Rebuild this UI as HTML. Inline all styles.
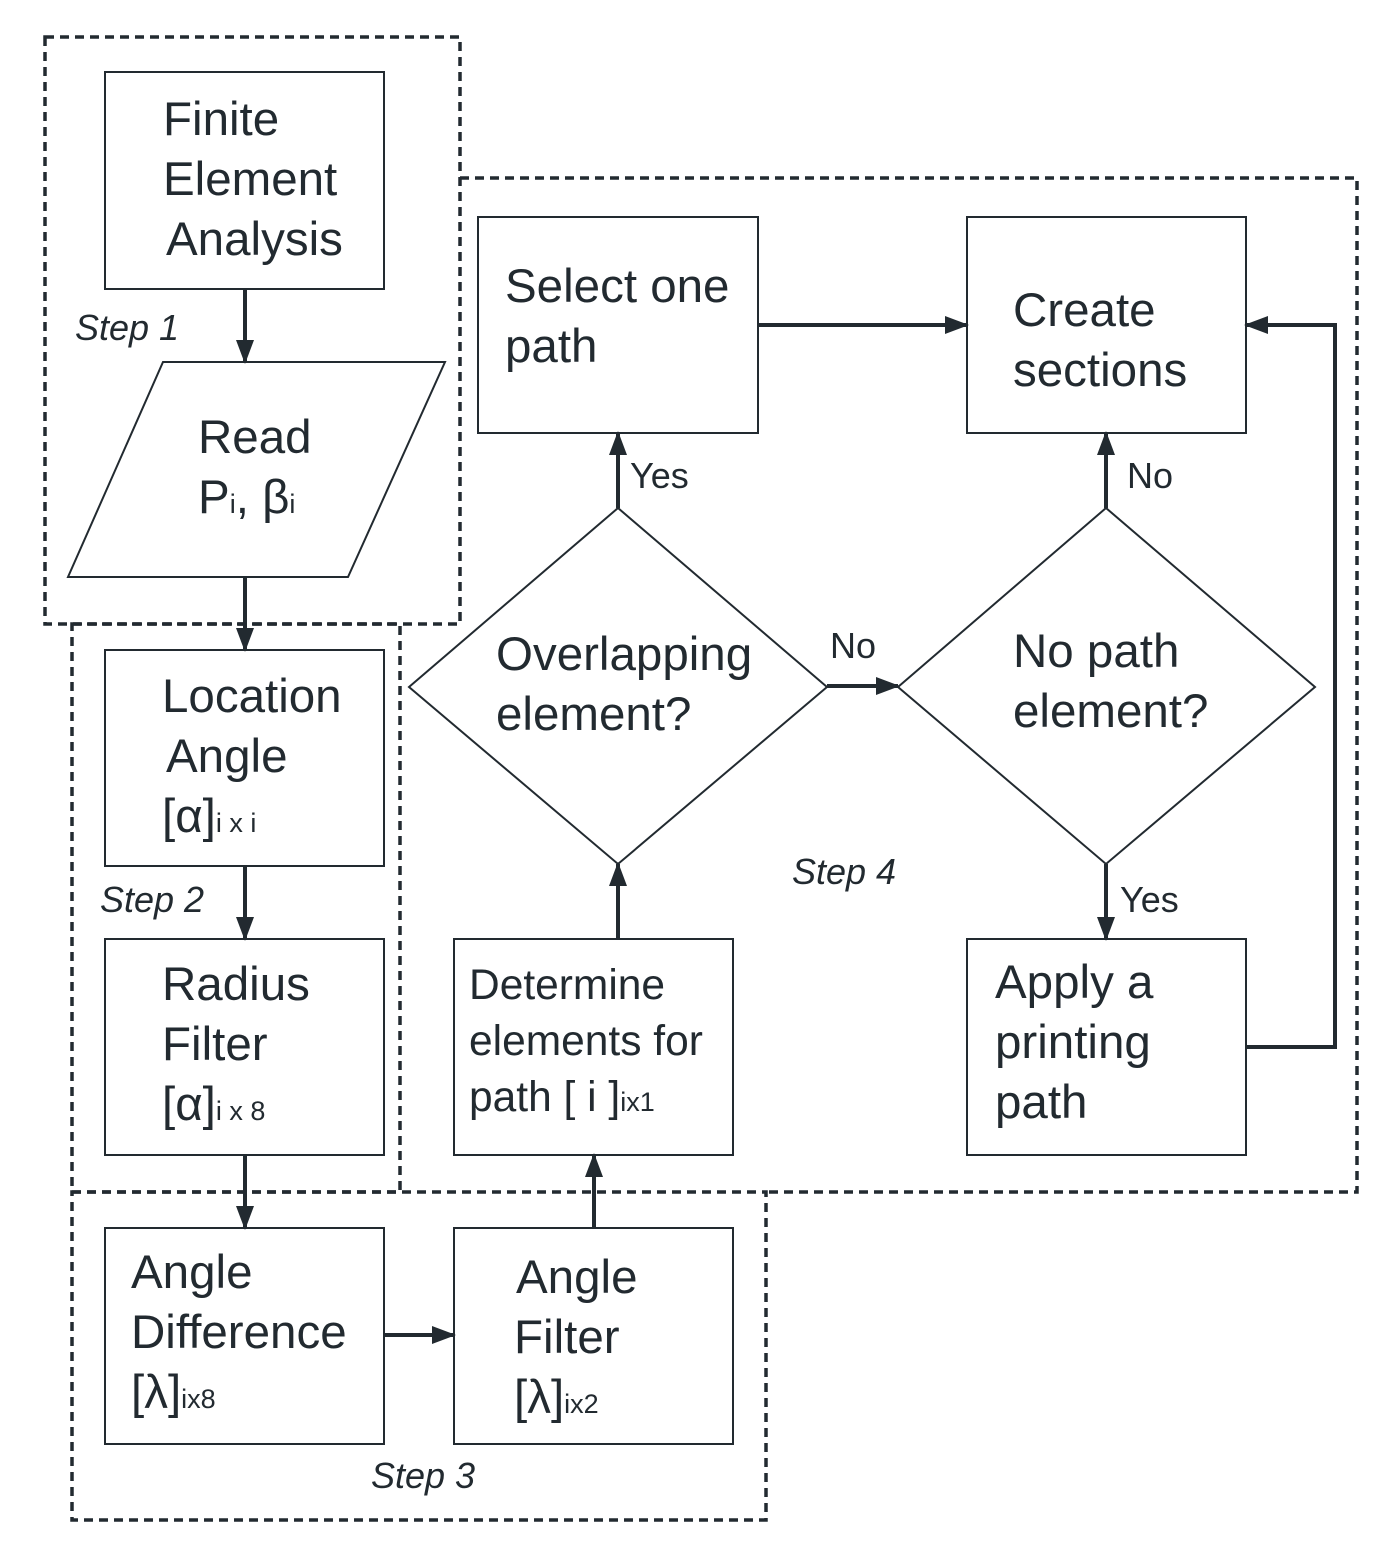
<!DOCTYPE html>
<html><head><meta charset="utf-8"><style>
html,body{margin:0;padding:0;background:#fff}
svg{display:block}
text{font-family:"Liberation Sans",sans-serif;fill:#222a30}
.b{font-size:47.5px}
.m{font-size:42.5px}
.s{font-size:27px}
.l{font-size:36px}
.st{font-size:36px;font-style:italic}
</style></head><body>
<svg width="1399" height="1558" viewBox="0 0 1399 1558" xmlns="http://www.w3.org/2000/svg">
<defs><marker id="a" markerWidth="24" markerHeight="18" refX="22" refY="9" orient="auto" markerUnits="userSpaceOnUse"><path d="M0,0 L24,9 L0,18 Z" fill="#222a30"/></marker></defs>
<g fill="none" stroke="#222a30" stroke-width="3.5" stroke-dasharray="9,6">
<rect x="45" y="37" width="415" height="587"/>
<rect x="72" y="624" width="328" height="568"/>
<rect x="72" y="1192" width="694" height="328"/>
<polyline points="460,178 1357,178 1357,1192 766,1192"/>
</g>
<g fill="#fff" stroke="#222a30" stroke-width="2">
<rect x="105" y="72" width="279" height="217"/>
<polygon points="163,362 445,362 348,577 68,577"/>
<rect x="105" y="650" width="279" height="216"/>
<rect x="105" y="939" width="279" height="216"/>
<rect x="105" y="1228" width="279" height="216"/>
<rect x="454" y="1228" width="279" height="216"/>
<rect x="454" y="939" width="279" height="216"/>
<rect x="478" y="217" width="280" height="216"/>
<rect x="967" y="217" width="279" height="216"/>
<rect x="967" y="939" width="279" height="216"/>
<polygon points="409,687 618,508 827,687 618,864"/>
<polygon points="898,687 1106,508 1315,687 1106,864"/>
</g>
<g stroke="#222a30" stroke-width="4" fill="none" marker-end="url(#a)">
<line x1="245" y1="289" x2="245" y2="362"/>
<line x1="245" y1="577" x2="245" y2="650"/>
<line x1="245" y1="866" x2="245" y2="939"/>
<line x1="245" y1="1155" x2="245" y2="1228"/>
<line x1="384" y1="1335" x2="454" y2="1335"/>
<line x1="594" y1="1228" x2="594" y2="1155"/>
<line x1="618" y1="939" x2="618" y2="864"/>
<line x1="618" y1="508" x2="618" y2="433"/>
<line x1="827" y1="686" x2="898" y2="686"/>
<line x1="1106" y1="508" x2="1106" y2="433"/>
<line x1="1106" y1="864" x2="1106" y2="939"/>
<line x1="758" y1="325" x2="967" y2="325"/>
<polyline points="1246,1047 1335,1047 1335,325 1246,325"/>
</g>
<text class="b" x="163" y="135">Finite</text>
<text class="b" x="163" y="195">Element</text>
<text class="b" x="166" y="255">Analysis</text>
<text class="b" x="198" y="453">Read</text>
<text class="b" x="198" y="513">P<tspan class="s">i</tspan>, β<tspan class="s">i</tspan></text>
<text class="b" x="162" y="712">Location</text>
<text class="b" x="166" y="772">Angle</text>
<text class="b" x="162" y="832">[α]<tspan class="s">i x i</tspan></text>
<text class="b" x="162" y="1000">Radius</text>
<text class="b" x="162" y="1060">Filter</text>
<text class="b" x="162" y="1120">[α]<tspan class="s">i x 8</tspan></text>
<text class="b" x="131" y="1288">Angle</text>
<text class="b" x="131" y="1348">Difference</text>
<text class="b" x="131" y="1408">[λ]<tspan class="s">ix8</tspan></text>
<text class="b" x="516" y="1293">Angle</text>
<text class="b" x="514" y="1353">Filter</text>
<text class="b" x="514" y="1413">[λ]<tspan class="s">ix2</tspan></text>
<text class="m" x="469" y="999">Determine</text>
<text class="m" x="469" y="1055">elements for</text>
<text class="m" x="469" y="1111">path [ i ]<tspan class="s">ix1</tspan></text>
<text class="b" x="505" y="302">Select one</text>
<text class="b" x="505" y="362">path</text>
<text class="b" x="1013" y="326">Create</text>
<text class="b" x="1013" y="386">sections</text>
<text class="b" x="995" y="998">Apply a</text>
<text class="b" x="995" y="1058">printing</text>
<text class="b" x="995" y="1118">path</text>
<text class="b" x="496" y="670">Overlapping</text>
<text class="b" x="496" y="730">element?</text>
<text class="b" x="1013" y="667">No path</text>
<text class="b" x="1013" y="727">element?</text>
<text class="l" x="630" y="488">Yes</text>
<text class="l" x="830" y="658">No</text>
<text class="l" x="1127" y="488">No</text>
<text class="l" x="1120" y="912">Yes</text>
<text class="st" x="75" y="340">Step 1</text>
<text class="st" x="100" y="912">Step 2</text>
<text class="st" x="371" y="1488">Step 3</text>
<text class="st" x="792" y="884">Step 4</text>
</svg>
</body></html>
